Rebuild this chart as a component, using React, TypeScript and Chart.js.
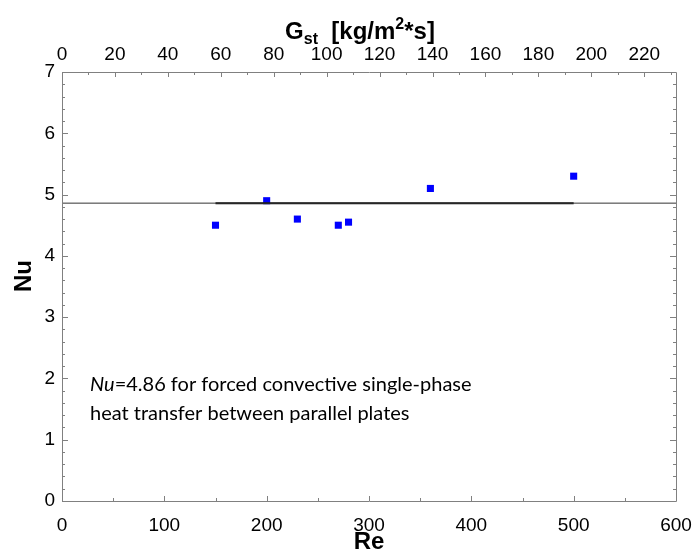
import React, { useEffect, useRef } from "react";
import { Chart, registerables } from "chart.js";

Chart.register(...registerables);

// ---- data ----
const reValues = [150, 200, 230, 270, 280, 360, 500];
const nuValues = [4.5, 4.9, 4.6, 4.5, 4.55, 5.1, 5.3];
const nuTheory = 4.86;
const theoryFullRange = [0, 600];
const theorySegment = [150, 500];

// ---- axes ----
const reTicks = [0, 100, 200, 300, 400, 500, 600];
const nuTicks = [0, 1, 2, 3, 4, 5, 6, 7];
const gstTicks = [0, 20, 40, 60, 80, 100, 120, 140, 160, 180, 200, 220];
const reMin = 0;
const reMax = 600;
const nuMin = 0;
const nuMax = 7;
const gstMax = 232;
const reMinorStep = 50;
const nuMinorStep = 0.2;
const gstMinorStep = 10;

// ---- text ----
const xTitle = "Re";
const yTitle = "Nu";
const topTitleParts = [
  { t: "G", sub: 0 },
  { t: "st", sub: 1 },
  { t: "  [kg/m", sub: 0 },
  { t: "2", sub: -1 },
  { t: "*s]", sub: 0 },
];
const noteItalic = "Nu";
const noteRest = "=4.86 for forced convective single-phase";
const noteLine2 = "heat transfer between parallel plates";

const SANS = "'Liberation Sans', Arial, sans-serif";
const NOTE_FONT = "Lato, 'Open Sans', sans-serif";
const FRAME = "#808080";

const framePlugin = {
  id: "frameAndText",
  afterDraw(chart: any) {
    const { ctx, chartArea } = chart;
    const { left, right, top, bottom } = chartArea;
    const x = chart.scales.x;
    const x2 = chart.scales.x2;
    const y = chart.scales.y;
    ctx.save();
    // frame
    ctx.strokeStyle = FRAME;
    ctx.lineWidth = 1;
    ctx.beginPath();
    ctx.rect(Math.round(left) + 0.5, Math.round(top) + 0.5, Math.round(right - left), Math.round(bottom - top));
    ctx.stroke();
    // ticks
    ctx.beginPath();
    const near = (a: number, b: number) => Math.abs(a - b) < 1e-6;
    for (let v = nuMin; v <= nuMax + 1e-9; v += nuMinorStep) {
      const isMajor = nuTicks.some((t) => near(t, v));
      const len = isMajor ? 6 : 3;
      const py = Math.round(y.getPixelForValue(v)) + 0.5;
      ctx.moveTo(left, py);
      ctx.lineTo(left + len, py);
      ctx.moveTo(right, py);
      ctx.lineTo(right - len, py);
    }
    for (let v = reMin; v <= reMax + 1e-9; v += reMinorStep) {
      const isMajor = reTicks.some((t) => near(t, v));
      const len = isMajor ? 5 : 3;
      const px = Math.round(x.getPixelForValue(v)) + 0.5;
      ctx.moveTo(px, bottom);
      ctx.lineTo(px, bottom - len);
    }
    for (let v = 0; v <= gstMax + 1e-9; v += gstMinorStep) {
      const isMajor = gstTicks.some((t) => near(t, v));
      const len = isMajor ? 5 : 3;
      const px = Math.round(x2.getPixelForValue(v)) + 0.5;
      ctx.moveTo(px, top);
      ctx.lineTo(px, top + len);
    }
    ctx.stroke();

    // y-axis title
    ctx.fillStyle = "#000";
    ctx.save();
    ctx.translate(24, 276);
    ctx.rotate(-Math.PI / 2);
    ctx.font = `bold 24px ${SANS}`;
    ctx.textAlign = "center";
    ctx.textBaseline = "middle";
    ctx.fillText(yTitle, 0, 0);
    ctx.restore();

    // top title with sub/superscript
    ctx.textBaseline = "alphabetic";
    ctx.textAlign = "left";
    const fontFor = (sub: number) => `bold ${sub === 0 ? 24 : 16}px ${SANS}`;
    let total = 0;
    for (const p of topTitleParts) {
      ctx.font = fontFor(p.sub);
      total += ctx.measureText(p.t).width;
    }
    let cx = 360 - total / 2;
    const base = 39;
    for (const p of topTitleParts) {
      ctx.font = fontFor(p.sub);
      const dy = p.sub === 1 ? 5 : p.sub === -1 ? -10 : 0;
      ctx.fillText(p.t, cx, base + dy);
      cx += ctx.measureText(p.t).width;
    }

    // annotation
    const nx = 90;
    ctx.font = `italic 20px ${NOTE_FONT}`;
    ctx.fillText(noteItalic, nx, 391);
    const w = ctx.measureText(noteItalic).width;
    ctx.font = `20px ${NOTE_FONT}`;
    ctx.fillText(noteRest, nx + w, 391);
    ctx.fillText(noteLine2, nx, 420);
    ctx.restore();
  },
};

const zeroPad = (s: any) => {
  s.paddingLeft = 0;
  s.paddingRight = 0;
  s.paddingTop = 0;
  s.paddingBottom = 0;
};

export default function App() {
  const ref = useRef<HTMLCanvasElement | null>(null);
  useEffect(() => {
    if (!ref.current) return;
    const chart = new Chart(ref.current, {
      type: "scatter",
      data: {
        datasets: [
          {
            type: "line",
            data: theoryFullRange.map((r) => ({ x: r, y: nuTheory })),
            borderColor: "#333",
            borderWidth: 1,
            pointRadius: 0,
            xAxisID: "x",
            yAxisID: "y",
          },
          {
            type: "line",
            data: theorySegment.map((r) => ({ x: r, y: nuTheory })),
            borderColor: "#111",
            borderWidth: 2,
            pointRadius: 0,
            xAxisID: "x",
            yAxisID: "y",
          },
          {
            data: reValues.map((r, i) => ({ x: r, y: nuValues[i] })),
            backgroundColor: "#0000ff",
            borderWidth: 0,
            pointStyle: "rect",
            pointRadius: 5,
            xAxisID: "x",
            yAxisID: "y",
          },
        ],
      },
      options: {
        animation: false,
        responsive: false,
        layout: { padding: { left: 0, right: 19, top: 0, bottom: 0 } },
        plugins: { legend: { display: false }, tooltip: { enabled: false } },
        scales: {
          x: {
            type: "linear",
            position: "bottom",
            min: reMin,
            max: reMax,
            afterBuildTicks: (s: any) => {
              s.ticks = reTicks.map((v) => ({ value: v }));
            },
            afterFit: (s: any) => {
              s.height = 56;
              zeroPad(s);
            },
            grid: { display: false, drawTicks: false },
            border: { display: false },
            ticks: { padding: 13, color: "#000", font: { size: 19, family: SANS }, maxRotation: 0 },
            title: {
              display: true,
              text: xTitle,
              color: "#000",
              font: { size: 24, weight: "bold", family: SANS },
              padding: { top: 0, bottom: 0 },
            },
          },
          x2: {
            type: "linear",
            position: "top",
            min: 0,
            max: gstMax,
            afterBuildTicks: (s: any) => {
              s.ticks = gstTicks.map((v) => ({ value: v }));
            },
            afterFit: (s: any) => {
              s.height = 72;
              zeroPad(s);
            },
            grid: { display: false, drawTicks: false },
            border: { display: false },
            ticks: { padding: 6, color: "#000", font: { size: 19, family: SANS }, maxRotation: 0 },
          },
          y: {
            type: "linear",
            position: "left",
            min: nuMin,
            max: nuMax,
            afterBuildTicks: (s: any) => {
              s.ticks = nuTicks.map((v) => ({ value: v }));
            },
            afterFit: (s: any) => {
              s.width = 62;
              zeroPad(s);
            },
            grid: { display: false, drawTicks: false },
            border: { display: false },
            ticks: { padding: 7, color: "#000", font: { size: 19, family: SANS } },
          },
        },
      },
      plugins: [framePlugin],
    } as any);
    return () => chart.destroy();
  }, []);
  return (
    <div style={{ position: "fixed", left: 0, top: 0, width: 695, height: 557, background: "#fff" }}>
      <canvas ref={ref} width={695} height={557} style={{ display: "block" }} />
    </div>
  );
}
